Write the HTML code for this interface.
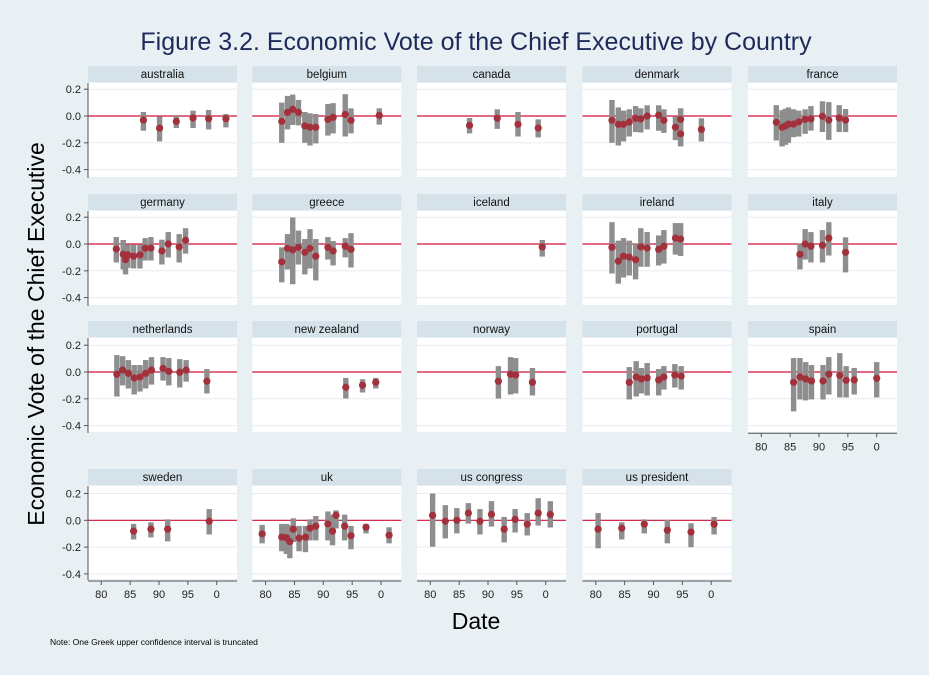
<!DOCTYPE html>
<html><head><meta charset="utf-8"><style>
html,body{margin:0;padding:0;background:#e9f0f4;}
svg{display:block;font-family:"Liberation Sans",sans-serif;}
</style></head><body>
<svg id="chart" width="929" height="675" viewBox="0 0 929 675" xmlns="http://www.w3.org/2000/svg">
<rect x="0" y="0" width="929" height="675" fill="#e9f0f4"/>
<text x="476" y="50" text-anchor="middle" font-size="25" fill="#1e2b5a">Figure 3.2. Economic Vote of the Chief Executive by Country</text>
<text transform="translate(44,334) rotate(-90)" text-anchor="middle" font-size="23" fill="#000">Economic Vote of the Chief Executive</text>
<text x="476" y="629" text-anchor="middle" font-size="23" fill="#000">Date</text>
<text x="50" y="645" font-size="8.5" fill="#000">Note: One Greek upper confidence interval is truncated</text>
<g id="panels"></g>
</svg>
<script>
const countries=["australia","belgium","canada","denmark","france","germany","greece","iceland","ireland","italy","netherlands","new zealand","norway","portugal","spain","sweden","uk","us congress","us president"];
const yTicks=[0.2,0.0,-0.2,-0.4];
const yTickLabels=["0.2","0.0","-0.2","-0.4"];
const xTicks=[1980,1985,1990,1995,2000];
const xTickLabels=["80","85","90","95","0"];

const australiaYear=[1987.3,1990.1,1993.0,1995.9,1998.6,2001.6];
const australiaEst=[-0.03,-0.09,-0.04,-0.015,-0.02,-0.02];
const australiaLo=[-0.11,-0.19,-0.09,-0.09,-0.10,-0.085];
const australiaHi=[0.03,-0.005,0.0,0.04,0.045,0.015];

const belgiumYear=[1982.8,1983.8,1984.7,1985.7,1986.8,1987.7,1988.7,1990.8,1991.7,1993.8,1994.8,1999.7];
const belgiumEst=[-0.04,0.027,0.05,0.027,-0.074,-0.084,-0.084,-0.025,-0.01,0.012,-0.032,0.005];
const belgiumLo=[-0.2,-0.10,-0.067,-0.07,-0.2,-0.22,-0.205,-0.146,-0.13,-0.153,-0.13,-0.064];
const belgiumHi=[0.10,0.15,0.16,0.12,0.03,0.02,0.015,0.09,0.096,0.163,0.057,0.057];

const canadaYear=[1986.8,1991.6,1995.2,1998.7];
const canadaEst=[-0.07,-0.017,-0.062,-0.09];
const canadaLo=[-0.13,-0.096,-0.153,-0.16];
const canadaHi=[-0.015,0.05,0.03,-0.025];

const denmarkYear=[1982.8,1983.9,1984.8,1985.8,1986.9,1987.8,1988.9,1990.9,1991.8,1993.8,1994.7,1994.7,1998.3];
const denmarkEst=[-0.032,-0.062,-0.062,-0.044,-0.017,-0.022,0.0,0.007,-0.032,-0.084,-0.025,-0.133,-0.1];
const denmarkLo=[-0.2,-0.22,-0.19,-0.153,-0.12,-0.123,-0.1,-0.11,-0.126,-0.18,-0.227,-0.227,-0.19];
const denmarkHi=[0.12,0.064,0.04,0.05,0.074,0.057,0.08,0.08,0.05,-0.005,0.057,0.057,-0.017];

const franceYear=[1982.6,1983.6,1984.2,1984.7,1985.6,1986.5,1987.6,1988.6,1990.6,1991.7,1993.5,1994.6];
const franceEst=[-0.047,-0.084,-0.074,-0.06,-0.06,-0.044,-0.025,-0.022,-0.002,-0.03,-0.015,-0.03];
const franceLo=[-0.183,-0.227,-0.215,-0.2,-0.158,-0.153,-0.133,-0.109,-0.12,-0.178,-0.12,-0.12];
const franceHi=[0.081,0.044,0.054,0.064,0.05,0.04,0.05,0.074,0.11,0.104,0.081,0.052];

const germanyYear=[1982.6,1983.8,1984.2,1984.6,1985.6,1986.7,1987.6,1988.6,1990.5,1991.6,1993.5,1994.6];
const germanyEst=[-0.037,-0.077,-0.116,-0.081,-0.091,-0.081,-0.032,-0.03,-0.052,0.0,-0.022,0.027];
const germanyLo=[-0.138,-0.19,-0.227,-0.178,-0.183,-0.183,-0.123,-0.123,-0.153,-0.1,-0.138,-0.072];
const germanyHi=[0.052,0.03,-0.005,-0.005,-0.005,-0.005,0.044,0.052,0.032,0.089,0.074,0.118];

const greeceYear=[1982.8,1983.8,1984.7,1985.7,1986.8,1987.7,1988.7,1990.8,1991.7,1993.8,1994.8];
const greeceEst=[-0.133,-0.032,-0.044,-0.025,-0.062,-0.032,-0.091,-0.025,-0.052,-0.017,-0.04];
const greeceLo=[-0.286,-0.19,-0.3,-0.153,-0.227,-0.183,-0.272,-0.116,-0.16,-0.1,-0.175];
const greeceHi=[-0.025,0.074,0.198,0.1,0.037,0.111,0.037,0.052,0.022,0.044,0.081];

const icelandYear=[1999.4];
const icelandEst=[-0.022];
const icelandLo=[-0.094];
const icelandHi=[0.03];

const irelandYear=[1982.8,1983.9,1984.8,1985.8,1986.9,1987.8,1988.9,1990.9,1991.8,1993.8,1994.7];
const irelandEst=[-0.025,-0.128,-0.091,-0.099,-0.118,-0.022,-0.03,-0.04,-0.017,0.044,0.037];
const irelandLo=[-0.22,-0.296,-0.25,-0.235,-0.264,-0.17,-0.17,-0.16,-0.146,-0.079,-0.089];
const irelandHi=[0.163,0.025,0.044,0.025,0.005,0.118,0.089,0.064,0.104,0.156,0.156];

const italyYear=[1986.7,1987.6,1988.6,1990.6,1991.7,1994.6];
const italyEst=[-0.077,0.0,-0.017,-0.01,0.044,-0.062];
const italyLo=[-0.19,-0.116,-0.138,-0.138,-0.086,-0.212];
const italyHi=[0.005,0.111,0.089,0.104,0.163,0.05];

const netherlandsYear=[1982.7,1983.7,1984.7,1985.7,1986.7,1987.7,1988.7,1990.7,1991.7,1993.6,1994.7,1998.3];
const netherlandsEst=[-0.017,0.015,-0.01,-0.044,-0.037,-0.01,0.015,0.027,0.005,-0.002,0.015,-0.069];
const netherlandsLo=[-0.183,-0.1,-0.123,-0.168,-0.146,-0.123,-0.094,-0.064,-0.1,-0.116,-0.072,-0.16];
const netherlandsHi=[0.126,0.118,0.089,0.052,0.052,0.089,0.111,0.111,0.104,0.096,0.089,0.022];

const newZealandYear=[1993.9,1996.8,1999.1];
const newZealandEst=[-0.114,-0.099,-0.077];
const newZealandLo=[-0.198,-0.153,-0.123];
const newZealandHi=[-0.044,-0.054,-0.044];

const norwayYear=[1991.8,1993.9,1994.8,1997.7];
const norwayEst=[-0.069,-0.017,-0.022,-0.077];
const norwayLo=[-0.198,-0.168,-0.16,-0.175];
const norwayHi=[0.044,0.111,0.104,0.03];

const portugalYear=[1985.8,1987.0,1987.9,1988.9,1990.9,1991.8,1993.7,1994.8];
const portugalEst=[-0.077,-0.037,-0.052,-0.044,-0.059,-0.037,-0.022,-0.03];
const portugalLo=[-0.205,-0.183,-0.16,-0.175,-0.175,-0.131,-0.116,-0.131];
const portugalHi=[0.037,0.081,0.03,0.067,0.022,0.044,0.059,0.044];

const spainYear=[1985.6,1986.7,1987.7,1988.7,1990.7,1991.7,1993.6,1994.7,1996.1,2000.0];
const spainEst=[-0.077,-0.037,-0.052,-0.067,-0.067,-0.017,-0.025,-0.062,-0.059,-0.047];
const spainLo=[-0.294,-0.205,-0.212,-0.205,-0.205,-0.168,-0.19,-0.19,-0.168,-0.19];
const spainHi=[0.104,0.104,0.074,0.052,0.052,0.111,0.141,0.044,0.03,0.074];

const swedenYear=[1985.6,1988.6,1991.5,1998.7];
const swedenEst=[-0.081,-0.066,-0.066,-0.007];
const swedenLo=[-0.143,-0.128,-0.157,-0.106];
const swedenHi=[-0.027,-0.015,0.007,0.084];

const ukYear=[1979.4,1982.8,1983.6,1984.2,1984.8,1985.8,1986.9,1987.7,1988.7,1990.8,1991.6,1992.2,1993.7,1994.8,1997.4,2001.4];
const ukEst=[-0.101,-0.125,-0.13,-0.16,-0.066,-0.133,-0.125,-0.059,-0.044,-0.027,-0.081,0.037,-0.044,-0.115,-0.052,-0.111];
const ukLo=[-0.172,-0.231,-0.251,-0.283,-0.162,-0.231,-0.238,-0.15,-0.15,-0.15,-0.187,-0.061,-0.15,-0.216,-0.098,-0.172];
const ukHi=[-0.034,-0.027,-0.027,-0.037,0.015,-0.042,-0.042,0.007,0.032,0.066,0.042,0.074,0.042,-0.042,-0.027,-0.052];

const usCongressYear=[1980.4,1982.6,1984.6,1986.6,1988.6,1990.6,1992.8,1994.7,1996.8,1998.7,2000.8];
const usCongressEst=[0.037,-0.007,0.0,0.054,-0.007,0.044,-0.066,0.007,-0.029,0.054,0.044];
const usCongressLo=[-0.197,-0.135,-0.098,-0.025,-0.106,-0.047,-0.165,-0.091,-0.113,-0.039,-0.054];
const usCongressHi=[0.2,0.113,0.091,0.128,0.084,0.143,0.025,0.084,0.054,0.165,0.143];

const usPresidentYear=[1980.4,1984.5,1988.4,1992.4,1996.5,2000.5];
const usPresidentEst=[-0.066,-0.059,-0.029,-0.074,-0.088,-0.029];
const usPresidentLo=[-0.209,-0.143,-0.098,-0.172,-0.201,-0.106];
const usPresidentHi=[0.054,-0.015,0.007,0.002,-0.022,0.025];

const series=[
 [australiaYear,australiaEst,australiaLo,australiaHi],
 [belgiumYear,belgiumEst,belgiumLo,belgiumHi],
 [canadaYear,canadaEst,canadaLo,canadaHi],
 [denmarkYear,denmarkEst,denmarkLo,denmarkHi],
 [franceYear,franceEst,franceLo,franceHi],
 [germanyYear,germanyEst,germanyLo,germanyHi],
 [greeceYear,greeceEst,greeceLo,greeceHi],
 [icelandYear,icelandEst,icelandLo,icelandHi],
 [irelandYear,irelandEst,irelandLo,irelandHi],
 [italyYear,italyEst,italyLo,italyHi],
 [netherlandsYear,netherlandsEst,netherlandsLo,netherlandsHi],
 [newZealandYear,newZealandEst,newZealandLo,newZealandHi],
 [norwayYear,norwayEst,norwayLo,norwayHi],
 [portugalYear,portugalEst,portugalLo,portugalHi],
 [spainYear,spainEst,spainLo,spainHi],
 [swedenYear,swedenEst,swedenLo,swedenHi],
 [ukYear,ukEst,ukLo,ukHi],
 [usCongressYear,usCongressEst,usCongressLo,usCongressHi],
 [usPresidentYear,usPresidentEst,usPresidentLo,usPresidentHi]
];

const NS="http://www.w3.org/2000/svg";
const colLeft=[88,252.3,417,582.5,748];
const stripTop=[66,194,321,469];
const zeroRow=[116,244,372,520.3];
const PW=149, SH=16, YS=134;
const root=document.getElementById('panels');
function mk(tag,attrs,parent){const e=document.createElementNS(NS,tag);for(const k in attrs)e.setAttribute(k,attrs[k]);(parent||root).appendChild(e);return e;}
function slug(s){return s.replace(/\s+/g,'-');}

countries.forEach((name,i)=>{
  const r=Math.floor(i/5), c=i%5;
  const L=colLeft[c], T=stripTop[r], z=zeroRow[r];
  const plotTop=T+SH+1, plotBot=(r===3)?T+110:T+111;
  const xs=yr=>L+13.3+(yr-1980)*5.77;
  const ys=v=>z-v*YS;
  const g=mk('g',{});
  
  
  const strip=mk('rect',{x:L,y:T,width:PW,height:SH,fill:'#d6e2e9'},g);
  
  
  const st=mk('text',{x:L+PW/2,y:T+12,'text-anchor':'middle','font-size':'11.5',fill:'#111'},g);
  st.textContent=name;
  
  
  const pa=mk('rect',{x:L,y:plotTop,width:PW,height:plotBot-plotTop,fill:'#ffffff'},g);
  
  
  yTicks.forEach(t=>{
    if(t===0) return;
    const gl=mk('line',{x1:L,x2:L+PW,y1:ys(t),y2:ys(t),stroke:'#e6edf1','stroke-width':1},g);
    
    
  });
  const zl=mk('line',{x1:L,x2:L+PW,y1:z,y2:z,stroke:'#d0103a','stroke-width':1.2},g);
  
  
  const [yr,est,lo,hi]=series[i];
  yr.forEach((y,k)=>{
    const b=mk('rect',{x:xs(y)-2.7,y:ys(hi[k]),width:5.4,height:Math.max(1,ys(lo[k])-ys(hi[k])),fill:'#8e8e8e'},g);
    
    
  });
  yr.forEach((y,k)=>{
    const p=mk('circle',{cx:xs(y),cy:ys(est[k]),r:3.6,fill:'#a2313c'},g);
    
    
  });
  if(c===0){
    const ax=mk('line',{x1:L,x2:L,y1:plotTop,y2:plotBot+1,stroke:'#555','stroke-width':1},g);
    
    
    yTicks.forEach((t,k)=>{
      const tk=mk('line',{x1:L-4,x2:L,y1:ys(t),y2:ys(t),stroke:'#555','stroke-width':1},g);
      
      
      const tl=mk('text',{x:L-7,y:ys(t)+4,'text-anchor':'end','font-size':'11',fill:'#222'},g);
      tl.textContent=yTickLabels[k];
      
      
    });
  }
  if(r===3 || i===14){
    const ay=(r===3)?581:433.3;
    const ax=mk('line',{x1:L,x2:L+PW,y1:ay,y2:ay,stroke:'#555','stroke-width':1},g);
    
    
    xTicks.forEach((t,k)=>{
      const tk=mk('line',{x1:xs(t),x2:xs(t),y1:ay,y2:ay+4,stroke:'#555','stroke-width':1},g);
      
      
      const tl=mk('text',{x:xs(t),y:ay+17,'text-anchor':'middle','font-size':'11',fill:'#222'},g);
      tl.textContent=xTickLabels[k];
      
      
    });
  }
});
</script>
</body></html>
